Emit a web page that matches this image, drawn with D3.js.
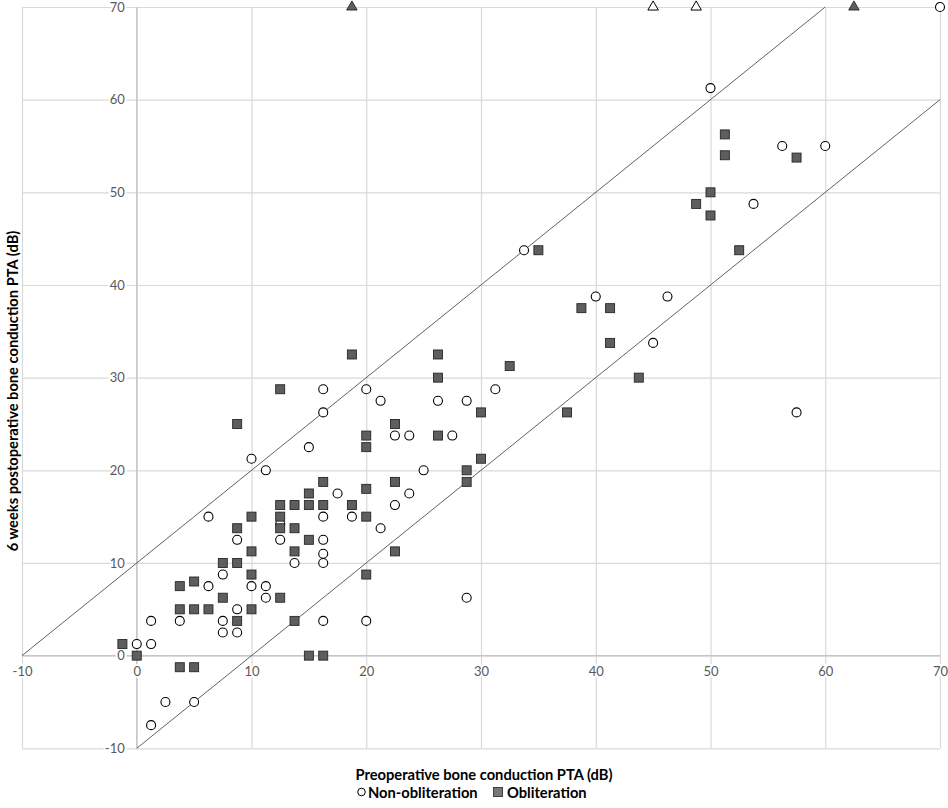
<!DOCTYPE html>
<html><head><meta charset="utf-8">
<script src="https://cdn.jsdelivr.net/npm/d3@7/dist/d3.min.js"></script>
<style>body{margin:0;background:#fff}svg{display:block}</style>
</head><body><svg id="c" width="948" height="808"></svg>
<script>
// ---- data ----
const xTicks = [-10, 0, 10, 20, 30, 40, 50, 60, 70];
const yTicks = [-10, 0, 10, 20, 30, 40, 50, 60, 70];
const refOffsets = [10, -10]; // lines y = x + offset
const seriesNames = ["Non-obliteration", "Obliteration"];

const nonObliteration = [
  [6.25,15],[12.5,14.2],[8.75,12.5],[12.5,12.5],[13.75,10],[7.5,8.75],[6.25,7.5],[10,7.5],
  [11.25,7.5],[11.25,6.25],[8.75,5],[1.25,3.75],[3.75,3.75],[7.5,3.75],[7.5,2.5],[8.75,2.5],
  [0,1.25],[1.25,1.25],[2.5,-5],[5,-5],[1.25,-7.5],[16.25,28.75],[20,28.75],[21.25,27.5],
  [16.25,26.25],[22.5,23.75],[15,22.5],[10,21.25],[11.25,20],[17.5,17.5],[22.5,16.25],
  [16.25,15],[18.75,15],[21.25,13.75],[31.25,28.75],[26.25,27.5],[28.75,27.5],[23.75,23.75],
  [27.5,23.75],[25,20],[23.75,17.5],[16.25,12.5],[16.25,11],[16.25,10],[28.75,6.25],
  [16.25,3.75],[20,3.75],[50,61.25],[56.25,55],[60,55],[53.75,48.75],[40,38.75],[46.25,38.75],
  [45,33.75],[57.5,26.25],[33.75,43.75],[70,70]
];
const obliteration = [
  [10,15],[12.5,16.25],[13.75,16.25],[15,16.25],[16.25,16.25],[18.75,16.25],[12.5,15],
  [8.75,13.75],[12.5,13.75],[13.75,13.75],[15,12.5],[10,11.25],[13.75,11.25],[7.5,10],
  [8.75,10],[10,8.75],[3.75,7.5],[5,8],[7.5,6.25],[12.5,6.25],[3.75,5],[5,5],[6.25,5],
  [10,5],[8.75,3.75],[13.75,3.75],[-1.25,1.25],[0,0],[15,0],[16.25,0],[3.75,-1.25],[5,-1.25],
  [18.75,32.5],[12.5,28.75],[8.75,25],[22.5,25],[20,23.75],[20,22.5],[16.25,18.75],
  [22.5,18.75],[15,17.5],[20,18],[20,15],[26.25,32.5],[26.25,30],[32.5,31.25],[30,26.25],
  [26.25,23.75],[30,21.25],[28.75,20],[28.75,18.75],[22.5,11.25],[20,8.75],[51.25,56.25],
  [51.25,54],[57.5,53.75],[50,50],[48.75,48.75],[50,47.5],[52.5,43.75],[38.75,37.5],
  [41.25,37.5],[41.25,33.75],[43.75,30],[35,43.75],[37.5,26.25]
];
// off-scale values shown at the top edge (y = 70)
const nonObliterationOffScale = [[45,70],[48.75,70]];
const obliterationOffScale = [[18.75,70],[62.5,70]];

// ---- chart ----
const svg = d3.select("#c");
const FONT = "Lato, 'Open Sans', sans-serif";
const x = d3.scaleLinear().domain([-10, 70]).range([22, 940]);
const y = d3.scaleLinear().domain([-10, 70]).range([748.3, 7]);

const gridColor = "#d9d9d9";
// vertical gridlines
const gx = svg.append("g").attr("transform", `translate(0,${y(-10)})`)
  .call(d3.axisBottom(x).tickValues(xTicks).tickSize(-(y(-10) - y(70))).tickFormat(""));
gx.select(".domain").remove();
gx.selectAll("line").attr("stroke", gridColor).attr("stroke-width", 1.2);
// horizontal gridlines
const gy = svg.append("g").attr("transform", `translate(${x(-10)},0)`)
  .call(d3.axisLeft(y).tickValues(yTicks).tickSize(-(x(70) - x(-10))).tickFormat(""));
gy.select(".domain").remove();
gy.selectAll("line").attr("stroke", gridColor).attr("stroke-width", 1.2);

// axis lines through zero
svg.append("line").attr("x1", x(0)).attr("x2", x(0)).attr("y1", y(-10)).attr("y2", y(70))
  .attr("stroke", "#c6c6c6").attr("stroke-width", 1.3);
svg.append("line").attr("x1", x(-10)).attr("x2", x(70)).attr("y1", y(0)).attr("y2", y(0))
  .attr("stroke", "#c6c6c6").attr("stroke-width", 1.3);

// reference lines
refOffsets.forEach(o => {
  const x1 = Math.max(-10, -10 - o), x2 = Math.min(70, 70 - o);
  svg.append("line").attr("x1", x(x1)).attr("y1", y(x1 + o)).attr("x2", x(x2)).attr("y2", y(x2 + o))
    .attr("stroke", "#3a3a3a").attr("stroke-width", 0.8);
});

// tick labels
const fmt = d => String(d);
const xl = svg.append("g").attr("transform", `translate(0,${y(0)})`)
  .call(d3.axisBottom(x).tickValues(xTicks).tickSize(0).tickPadding(11).tickFormat(fmt));
const yl = svg.append("g").attr("transform", `translate(${x(0)},0)`)
  .call(d3.axisLeft(y).tickValues(yTicks).tickSize(0).tickPadding(12).tickFormat(fmt));
[xl, yl].forEach(g => {
  g.select(".domain").remove();
  g.selectAll("text").attr("fill", "#595959").style("font-family", FONT).style("font-size", "13px")
    .attr("stroke", "#fff").attr("stroke-width", 4).attr("paint-order", "stroke");
});

// markers
const sqSize = 9;
svg.append("g").selectAll("circle").data(nonObliteration).join("circle")
  .attr("cx", d => x(d[0])).attr("cy", d => y(d[1])).attr("r", 4.5)
  .attr("fill", "#fff").attr("stroke", "#000").attr("stroke-width", 1.1);
svg.append("g").selectAll("rect").data(obliteration).join("rect")
  .attr("x", d => x(d[0]) - sqSize / 2).attr("y", d => y(d[1]) - sqSize / 2)
  .attr("width", sqSize).attr("height", sqSize)
  .attr("fill", "#5e5e5e").attr("stroke", "#262626").attr("stroke-width", 0.9);
const tri = d3.symbol().type(d3.symbolTriangle).size(48);
svg.append("g").selectAll("path").data(nonObliterationOffScale).join("path")
  .attr("d", tri).attr("transform", d => `translate(${x(d[0])},${y(d[1])})`)
  .attr("fill", "#fff").attr("stroke", "#000").attr("stroke-width", 1);
svg.append("g").selectAll("path").data(obliterationOffScale).join("path")
  .attr("d", tri).attr("transform", d => `translate(${x(d[0])},${y(d[1])})`)
  .attr("fill", "#5e5e5e").attr("stroke", "#262626").attr("stroke-width", 0.9);

// axis titles
const TS = "14.7px";
svg.append("text").attr("x", 484).attr("y", 774).attr("text-anchor", "middle")
  .attr("dominant-baseline", "central").style("font-family", FONT).style("font-size", TS)
  .style("font-weight", "bold").attr("fill", "#000")
  .text("Preoperative bone conduction PTA (dB)");
svg.append("text").attr("transform", "translate(12,391) rotate(-90)").attr("text-anchor", "middle")
  .attr("dominant-baseline", "central").style("font-family", FONT).style("font-size", TS)
  .style("font-weight", "bold").attr("fill", "#000")
  .text("6 weeks postoperative bone conduction PTA (dB)");

// legend
const lg = svg.append("g").attr("transform", "translate(0,792)");
lg.append("circle").attr("cx", 361.5).attr("cy", 0).attr("r", 3.8)
  .attr("fill", "#fff").attr("stroke", "#000").attr("stroke-width", 1);
lg.append("text").attr("x", 368).attr("y", 0).attr("dominant-baseline", "central")
  .style("font-family", FONT).style("font-size", TS).style("font-weight", "bold").text(seriesNames[0]);
lg.append("rect").attr("x", 498 - 4.5).attr("y", -4.5).attr("width", 9).attr("height", 9)
  .attr("fill", "#767676").attr("stroke", "#333").attr("stroke-width", 0.9);
lg.append("text").attr("x", 507).attr("y", 0).attr("dominant-baseline", "central")
  .style("font-family", FONT).style("font-size", TS).style("font-weight", "bold").text(seriesNames[1]);
</script></body></html>
